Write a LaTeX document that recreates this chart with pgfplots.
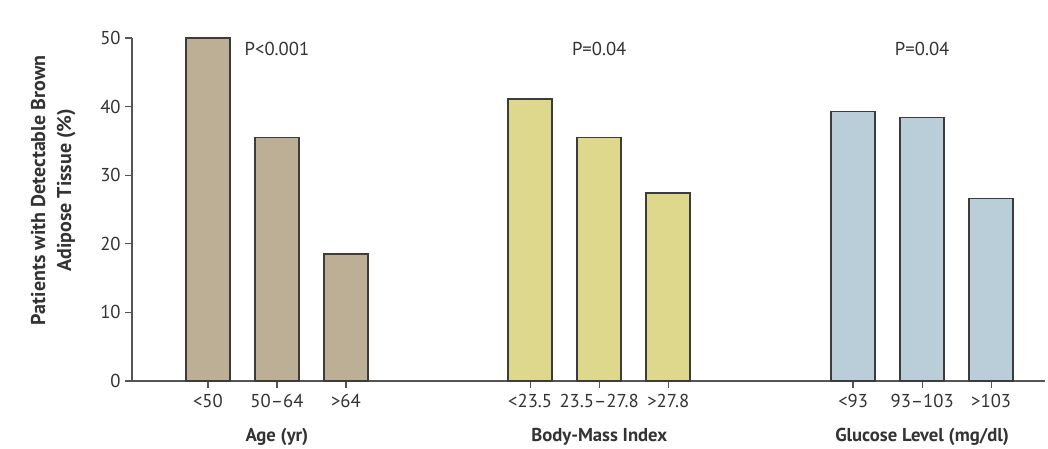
\documentclass[border=0pt]{standalone}
\usepackage{pgfplots}
\pgfplotsset{compat=1.18}
\usepackage{fontspec}
\setmainfont{PT Sans}
\definecolor{axgray}{HTML}{555555}
\definecolor{txtgray}{HTML}{333333}
\definecolor{agec}{HTML}{BCAF95}
\definecolor{bmic}{HTML}{DDD88C}
\definecolor{gluc}{HTML}{B9CED9}
\definecolor{edgec}{HTML}{3C3C3C}
\begin{document}
\begin{tikzpicture}
\useasboundingbox (-99pt,-51pt) rectangle (687pt,285.75pt);
\begin{axis}[
  at={(0,0)}, anchor=south west,
  scale only axis, width=684.75pt, height=257.25pt,
  xmin=-0.1, xmax=13.13, ymin=0, ymax=50,
  axis x line=bottom, axis y line=left,
  axis line style={axgray, line width=1pt},
  x axis line style={-}, y axis line style={-},
  every tick/.style={axgray, line width=1pt},
  ytick={0,10,20,30,40,50},
  y tick label style={font=\fontsize{14}{16}\selectfont, text=txtgray},
  x tick label style={font=\fontsize{14}{16}\selectfont, text=txtgray, yshift=-1pt},
  tick align=outside, major tick length=5pt,
  xtick={1,2,3,5.67,6.67,7.67,10.35,11.35,12.35},
  xticklabels={{<50},{50–64},{>64},{<23.5},{23.5–27.8},{>27.8},{<93},{93–103},{>103}},
  /pgf/number format/assume math mode=true,
  ybar, bar width=33pt,
  clip=false,
]
\addplot[fill=agec, draw=edgec, line width=1.2pt, bar shift=0pt] coordinates {(1,50) (2,35.5) (3,18.5)};
\addplot[fill=bmic, draw=edgec, line width=1.2pt, bar shift=0pt] coordinates {(5.67,41.1) (6.67,35.5) (7.67,27.4)};
\addplot[fill=gluc, draw=edgec, line width=1.2pt, bar shift=0pt] coordinates {(10.35,39.3) (11.35,38.4) (12.35,26.6)};
\node[font=\fontsize{14}{16}\selectfont, text=txtgray] at (axis cs:2,48.4) {P<0.001};
\node[font=\fontsize{14}{16}\selectfont, text=txtgray] at (axis cs:6.67,48.4) {P=0.04};
\node[font=\fontsize{14}{16}\selectfont, text=txtgray] at (axis cs:11.35,48.4) {P=0.04};
\node[font=\bfseries\fontsize{14}{16}\selectfont, text=txtgray] at (axis cs:2,-8.1) {Age (yr)};
\node[font=\bfseries\fontsize{14}{16}\selectfont, text=txtgray] at (axis cs:6.67,-8.1) {Body-Mass Index};
\node[font=\bfseries\fontsize{14}{16}\selectfont, text=txtgray] at (axis cs:11.35,-8.1) {Glucose Level (mg/dl)};
\node[font=\bfseries\fontsize{15}{19.5}\selectfont, text=txtgray, rotate=90, align=center] at ([xshift=-59pt]axis cs:-0.1,27.8) {Patients with Detectable Brown\\Adipose Tissue (\%)};
\end{axis}
\end{tikzpicture}
\end{document}
